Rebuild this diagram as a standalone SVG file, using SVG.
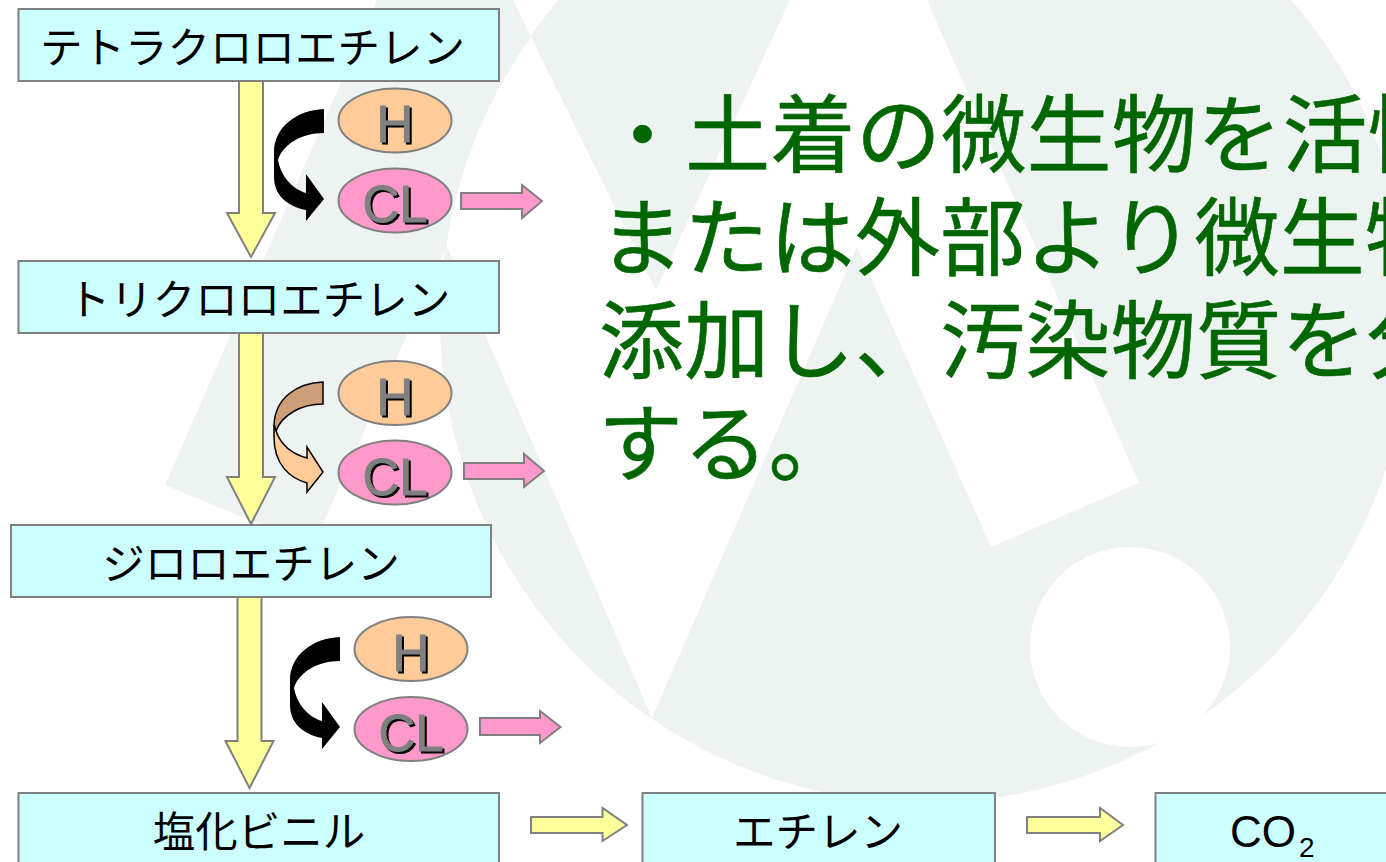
<svg xmlns="http://www.w3.org/2000/svg" width="1386" height="862" viewBox="0 0 1386 862">
<style>
.wm{fill:#edf3f1}
.box{fill:#ccffff;stroke:#808080;stroke-width:2}
.t{font-family:"Noto Sans CJK JP","Liberation Sans",sans-serif;font-size:42.500px;fill:#000;text-anchor:middle}
.lat{font-family:"Liberation Sans",sans-serif;fill:#000}
.h{fill:#ffcc99;stroke:#808080;stroke-width:2}
.cl{fill:#ff99cc;stroke:#808080;stroke-width:2}
.el{font-family:"Liberation Sans",sans-serif;font-size:51px;fill:#808080;stroke:#808080;stroke-width:1;text-anchor:middle;filter:drop-shadow(2px 2px 0 #000)}
.ya{fill:#ffff99;stroke:#808080;stroke-width:2}
.pa{fill:#ff99cc;stroke:#808080;stroke-width:2}
.main{font-family:"Noto Sans CJK JP",sans-serif;font-size:85px;fill:#006600;stroke:#006600;stroke-width:.6;letter-spacing:.3px}
</style>
<g id="watermark">
<ellipse class="wm" cx="925" cy="318" rx="485" ry="485"/>
<polygon fill="#fff" points="531,37 656,290 790,0 927,0 1139,483 991,547 857,247 652,718 447,247 420,130"/>
<circle fill="#fff" cx="1130" cy="647" r="100"/>
<path class="wm" d="M377,0 L513,0 L531,37 A485,485 0 0 0 446,247 L313,546 L165,485 Z"/>
</g>
<g id="connectors">
<polygon class="ya" points="239,81 263,81 263,213 275,213 251,257 227,213 239,213"/>
<polygon class="ya" points="239,333 263,333 263,477 275,477 251,524 227,477 239,477"/>
<polygon class="ya" points="237.500,597 261.500,597 261.500,741 273.500,741 249.500,788 225.500,741 237.500,741"/>
<polygon class="pa" points="461,193 522,193 522,185 542,201 522,218 522,209 461,209"/>
<polygon class="pa" points="464,463 524,463 524,454 544,471 524,487 524,479 464,479"/>
<polygon class="pa" points="480,718 540,718 540,711 560.500,727 540,743 540,735 480,735"/>
<polygon class="ya" points="531,817 602.500,817 602.500,808 627,825 602.500,841 602.500,833 531,833"/>
<polygon class="ya" points="1027,817 1100,817 1100,808 1123,825 1100,841 1100,833 1027,833"/>
<path id="curve1" fill="#000" d="M324,109 C296,110 274,128 274,152 L274,177 C274,194 286,206 306,210 L306,221 L324,199 L306,174 L306,193 C292,189 281,176 278,160 C283,144 302,133 324,133 Z"/>
<path fill="#cc9f78" stroke="#000" stroke-width="1.500" d="M323,382 C297,383 275,398 274,425 L276,431 C282,415 301,404 323,404 Z"/>
<path fill="#ffcc99" stroke="#000" stroke-width="1.500" d="M276,431 L274,425 L274,437 C274,465 290,478 307,483 L307,492 L323,472 L307,447 L307,458 C292,454 281,445 276,431 Z"/>
<path fill="#000" transform="translate(16,528)" d="M324,109 C296,110 274,128 274,152 L274,177 C274,194 286,206 306,210 L306,221 L324,199 L306,174 L306,193 C292,189 281,176 278,160 C283,144 302,133 324,133 Z"/>
</g>
<g id="n-tetra"><rect class="box" x="18.500" y="9" width="480.500" height="72"/><text class="t" x="252.500" y="63">テトラクロロエチレン</text></g>
<g id="n-tri"><rect class="box" x="18.500" y="261" width="480.500" height="72"/><text class="t" x="259" y="315">トリクロロエチレン</text></g>
<g id="n-di"><rect class="box" x="11" y="525" width="480" height="72"/><text class="t" x="251" y="579">ジロロエチレン</text></g>
<g id="n-vinyl"><rect class="box" x="18.500" y="793" width="480.500" height="80"/><text class="t" x="259" y="847">塩化ビニル</text></g>
<g id="n-ethylene"><rect class="box" x="642.500" y="793" width="352.500" height="80"/><text class="t" x="818" y="847">エチレン</text></g>
<g id="n-co2"><rect class="box" x="1155.500" y="793" width="260" height="80"/><text class="lat" x="1230" y="847" font-size="44">CO<tspan font-size="28" dx="3" dy="10">2</tspan></text></g>
<g id="n-h1"><ellipse class="h" cx="395" cy="120.500" rx="56.500" ry="32"/><text class="el" x="395" y="142">H</text></g>
<g id="n-cl1"><ellipse class="cl" cx="395" cy="200.500" rx="56.500" ry="32"/><text class="el" x="395" y="222">CL</text></g>
<g id="n-h2"><ellipse class="h" cx="395" cy="393" rx="56.500" ry="32"/><text class="el" x="395" y="415">H</text></g>
<g id="n-cl2"><ellipse class="cl" cx="395" cy="472.500" rx="56.500" ry="32"/><text class="el" x="395" y="495">CL</text></g>
<g id="n-h3"><ellipse class="h" cx="411" cy="649" rx="56.500" ry="32"/><text class="el" x="411" y="671">H</text></g>
<g id="n-cl3"><ellipse class="cl" cx="411" cy="729" rx="56.500" ry="32"/><text class="el" x="411" y="751">CL</text></g>
<g id="main-text">
<text class="main" x="600" y="166">・土着の微生物を活性</text>
<text class="main" x="599" y="269">または外部より微生物</text>
<text class="main" x="599" y="372">添加し、汚染物質を分</text>
<text class="main" x="598" y="475">する。</text>
</g>
</svg>
